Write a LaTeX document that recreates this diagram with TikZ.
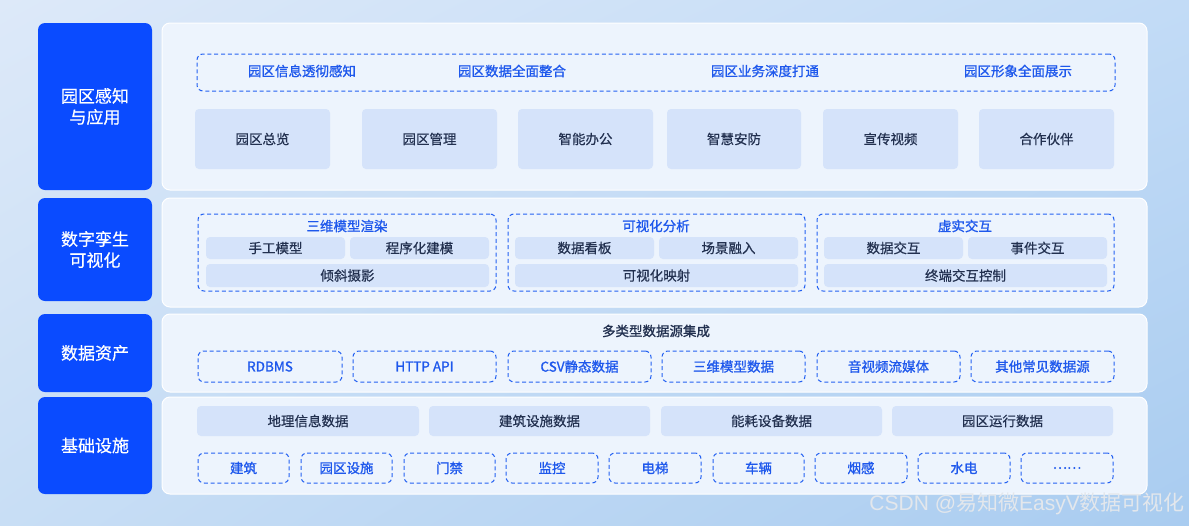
\documentclass[tikz,border=0pt]{standalone}
\usepackage{fontspec}
\setmainfont{Noto Sans CJK SC}
\newfontfamily\medfont[FakeBold=1.1]{Noto Sans CJK SC}
\newfontfamily\semifont[FakeBold=0.5]{Noto Sans CJK SC}
\newfontfamily\wmlatin{Liberation Sans}
\usetikzlibrary{shadings}
\definecolor{bgTL}{HTML}{DDE9F9}
\definecolor{bgTR}{HTML}{C2DBF6}
\definecolor{bgBL}{HTML}{C8DEF5}
\definecolor{bgBR}{HTML}{A9CCF0}
\definecolor{blueMain}{HTML}{0A4BFF}
\definecolor{panelC}{HTML}{EDF4FD}
\definecolor{grayC}{HTML}{D5E3FA}
\definecolor{dashC}{HTML}{2562F2}
\definecolor{blueTxt}{HTML}{1E58EC}
\definecolor{darkTxt}{HTML}{22304F}
\definecolor{wmC}{HTML}{E3E7EC}
\newcommand\bx[7]{\node[#1, minimum width={(#5)-(#3)}, minimum height={(#6)-(#4)}] (#2) at ({((#3)+(#5))/2},{((#4)+(#6))/2}) {#7};}
\tikzset{
  base/.style={inner sep=0pt, outer sep=0pt, rectangle},
  leftbox/.style={base, fill=blueMain, rounded corners=7pt, text=white, align=center, font=\fontsize{17}{21}\selectfont\semifont},
  panel/.style={base, fill=panelC, draw=white, line width=1pt, rounded corners=8pt},
  graybox/.style={base, fill=grayC, rounded corners=4pt, text=darkTxt, font=\fontsize{13.5}{16}\selectfont\semifont},
  dashbox/.style={base, draw=dashC, line width=1pt, dash pattern=on 4pt off 2.8pt, rounded corners=6pt, text=blueTxt, font=\fontsize{13.5}{16}\selectfont\medfont},
  bluetxt/.style={inner sep=0pt, text=blueTxt, font=\fontsize{13.5}{16}\selectfont\medfont},
  darktitle/.style={inner sep=0pt, text=darkTxt, font=\fontsize{13.5}{16}\selectfont\medfont},
}
\begin{document}
\begin{tikzpicture}[x=1pt,y=-1pt]
\useasboundingbox (0,0) rectangle (1189,525);
\shade[upper left=bgTL, upper right=bgTR, lower left=bgBL, lower right=bgBR] (0,0) rectangle (1189,525);

% ---------- Row 1 ----------
\bx{leftbox}{l1}{38}{23}{152}{190}{园区感知\\与应用}
\bx{panel}{p1}{162}{23}{1147}{190}{}
\bx{dashbox}{d1}{197}{54}{1115}{91}{}
\node[bluetxt] (t11) at (302,71) {园区信息透彻感知};
\node[bluetxt] (t12) at (512,71) {园区数据全面整合};
\node[bluetxt] (t13) at (765,71) {园区业务深度打通};
\node[bluetxt] (t14) at (1018,71) {园区形象全面展示};
\bx{graybox}{g11}{195}{109}{330}{169}{园区总览}
\bx{graybox}{g12}{362}{109}{497}{169}{园区管理}
\bx{graybox}{g13}{518}{109}{653}{169}{智能办公}
\bx{graybox}{g14}{667}{109}{801}{169}{智慧安防}
\bx{graybox}{g15}{823}{109}{958}{169}{宣传视频}
\bx{graybox}{g16}{979}{109}{1114}{169}{合作伙伴}

% ---------- Row 2 ----------
\bx{leftbox}{l2}{38}{198}{152}{301}{数字孪生\\可视化}
\bx{panel}{p2}{162}{198}{1147}{307}{}
\bx{dashbox}{d21}{198}{214}{496}{291}{}
\bx{dashbox}{d22}{508}{214}{805}{291}{}
\bx{dashbox}{d23}{817}{214}{1114}{291}{}
\node[bluetxt] (t21) at (347,226) {三维模型渲染};
\node[bluetxt] (t22) at (656,226) {可视化分析};
\node[bluetxt] (t23) at (965,226) {虚实交互};
\bx{graybox}{g211}{206}{237}{345}{259}{手工模型}
\bx{graybox}{g212}{350}{237}{489}{259}{程序化建模}
\bx{graybox}{g213}{206}{264}{489}{287}{倾斜摄影}
\bx{graybox}{g221}{515}{237}{654}{259}{数据看板}
\bx{graybox}{g222}{659}{237}{798}{259}{场景融入}
\bx{graybox}{g223}{515}{264}{798}{287}{可视化映射}
\bx{graybox}{g231}{824}{237}{963}{259}{数据交互}
\bx{graybox}{g232}{968}{237}{1107}{259}{事件交互}
\bx{graybox}{g233}{824}{264}{1107}{287}{终端交互控制}

% ---------- Row 3 ----------
\bx{leftbox}{l3}{38}{314}{152}{392}{数据资产}
\bx{panel}{p3}{162}{314}{1147}{392}{}
\node[darktitle] (t3) at (656,331) {多类型数据源集成};
\bx{dashbox}{d31}{198}{351}{342}{382}{RDBMS}
\bx{dashbox}{d32}{353}{351}{496}{382}{HTTP API}
\bx{dashbox}{d33}{508}{351}{651}{382}{CSV静态数据}
\bx{dashbox}{d34}{662}{351}{805}{382}{三维模型数据}
\bx{dashbox}{d35}{817}{351}{960}{382}{音视频流媒体}
\bx{dashbox}{d36}{971}{351}{1114}{382}{其他常见数据源}

% ---------- Row 4 ----------
\bx{leftbox}{l4}{38}{397}{152}{494}{基础设施}
\bx{panel}{p4}{162}{397}{1147}{494}{}
\bx{graybox}{g41}{197}{406}{419}{436}{地理信息数据}
\bx{graybox}{g42}{429}{406}{650}{436}{建筑设施数据}
\bx{graybox}{g43}{661}{406}{882}{436}{能耗设备数据}
\bx{graybox}{g44}{892}{406}{1113}{436}{园区运行数据}
\bx{dashbox}{d41}{198}{453}{289}{483}{建筑}
\bx{dashbox}{d42}{301}{453}{392}{483}{园区设施}
\bx{dashbox}{d43}{404}{453}{495}{483}{门禁}
\bx{dashbox}{d44}{506}{453}{598}{483}{监控}
\bx{dashbox}{d45}{609}{453}{701}{483}{电梯}
\bx{dashbox}{d46}{713}{453}{804}{483}{车辆}
\bx{dashbox}{d47}{815}{453}{907}{483}{烟感}
\bx{dashbox}{d48}{918}{453}{1010}{483}{水电}
\bx{dashbox}{d49}{1021}{453}{1113}{483}{……}

% watermark
\node[inner sep=0pt, text=wmC, font=\fontsize{21}{24}\selectfont, anchor=east] (wm) at (1185,504) {{\wmlatin CSDN @}易知微{\wmlatin EasyV}数据可视化};
\end{tikzpicture}
\end{document}
